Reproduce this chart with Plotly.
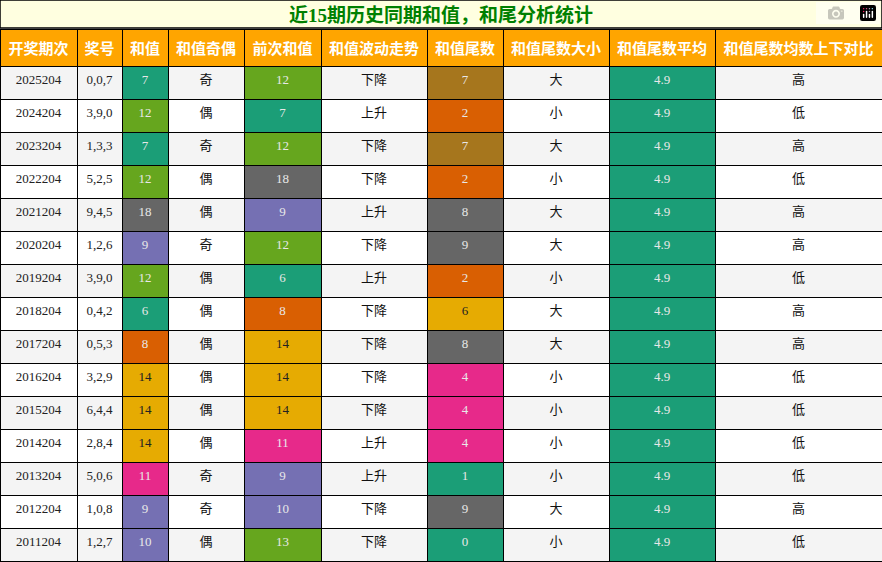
import plotly.graph_objects as go

title = "近15期历史同期和值，和尾分析统计"
headers = ["开奖期次", "奖号", "和值", "和值奇偶", "前次和值", "和值波动走势", "和值尾数", "和值尾数大小", "和值尾数平均", "和值尾数均数上下对比"]
periods = ["2025204","2024204","2023204","2022204","2021204","2020204","2019204","2018204","2017204","2016204","2015204","2014204","2013204","2012204","2011204"]
numbers = ["0,0,7","3,9,0","1,3,3","5,2,5","9,4,5","1,2,6","3,9,0","0,4,2","0,5,3","3,2,9","6,4,4","2,8,4","5,0,6","1,0,8","1,2,7"]
sums = [7,12,7,12,18,9,12,6,8,14,14,14,11,9,10]
parity = ["奇","偶","奇","偶","偶","奇","偶","偶","偶","偶","偶","偶","奇","奇","偶"]
prev_sums = [12,7,12,18,9,12,6,8,14,14,14,11,9,10,13]
trend = ["下降","上升","下降","下降","上升","下降","上升","下降","下降","下降","下降","上升","上升","下降","下降"]
tails = [7,2,7,2,8,9,2,6,8,4,4,4,1,9,0]
tail_size = ["大","小","大","小","大","大","小","大","大","小","小","小","小","大","小"]
tail_avg = [4.9]*15
compare = ["高","低","高","低","高","高","低","高","高","低","低","低","低","高","低"]

sum_colors = {6:"#1b9e77",7:"#1b9e77",8:"#d95f02",9:"#7570b3",10:"#7570b3",11:"#e7298a",
              12:"#66a61e",13:"#66a61e",14:"#e6ab02",18:"#666666"}
tail_colors = {0:"#1b9e77",1:"#1b9e77",2:"#d95f02",4:"#e7298a",6:"#e6ab02",7:"#a6761d",8:"#666666",9:"#666666"}
YEL = "#e6ab02"

n = len(periods)
row_bg = ["#f4f4f4" if i % 2 == 0 else "#ffffff" for i in range(n)]
def txt(c): return "#222222" if c == YEL else "#e8e8e8"

sc = [sum_colors[v] for v in sums]
pc = [sum_colors[v] for v in prev_sums]
tc = [tail_colors[v] for v in tails]
ac = ["#1b9e77"]*n

fill = [row_bg, row_bg, sc, row_bg, pc, row_bg, tc, row_bg, ac, row_bg]
fcol = [["#222"]*n, ["#222"]*n, [txt(c) for c in sc], ["#111"]*n, [txt(c) for c in pc],
        ["#111"]*n, [txt(c) for c in tc], ["#111"]*n, [txt(c) for c in ac], ["#111"]*n]
widths = [77,45,46,76,77,106,76,106,106,167]

W, H = 882, 562
fig = go.Figure(go.Table(
    domain=dict(x=[0,1], y=[0, 1-29/H]),
    columnwidth=widths,
    header=dict(values=[f"<b>{h}</b>" for h in headers], fill_color="#ffa500",
                font=dict(color="white", size=15, family="Noto Sans CJK SC"),
                line=dict(color="black", width=1), align="center", height=37),
    cells=dict(values=[periods, numbers, sums, parity, prev_sums, trend, tails, tail_size, tail_avg, compare],
               fill_color=fill, font=dict(color=fcol, size=13, family="Liberation Serif, Noto Sans CJK SC"),
               line=dict(color="black", width=1), align="center", height=33),
))
fig.add_shape(type="rect", xref="paper", yref="paper", x0=0, x1=1, y0=1-28/H, y1=1,
              fillcolor="#ffffe0", line=dict(color="black", width=1.5), layer="below")
fig.add_annotation(text=f"<b>{title}</b>", xref="paper", yref="paper", x=0.5, y=1-15/H,
                   xanchor="center", yanchor="middle",
                   showarrow=False, font=dict(color="#008000", size=19, family="Liberation Serif, Noto Sans CJK SC"))
fig.update_layout(width=W, height=H, margin=dict(l=0, r=0, t=0, b=0), paper_bgcolor="white")
fig.write_html("out.html", post_script="document.body.style.margin='0';document.body.style.overflow='hidden';")
